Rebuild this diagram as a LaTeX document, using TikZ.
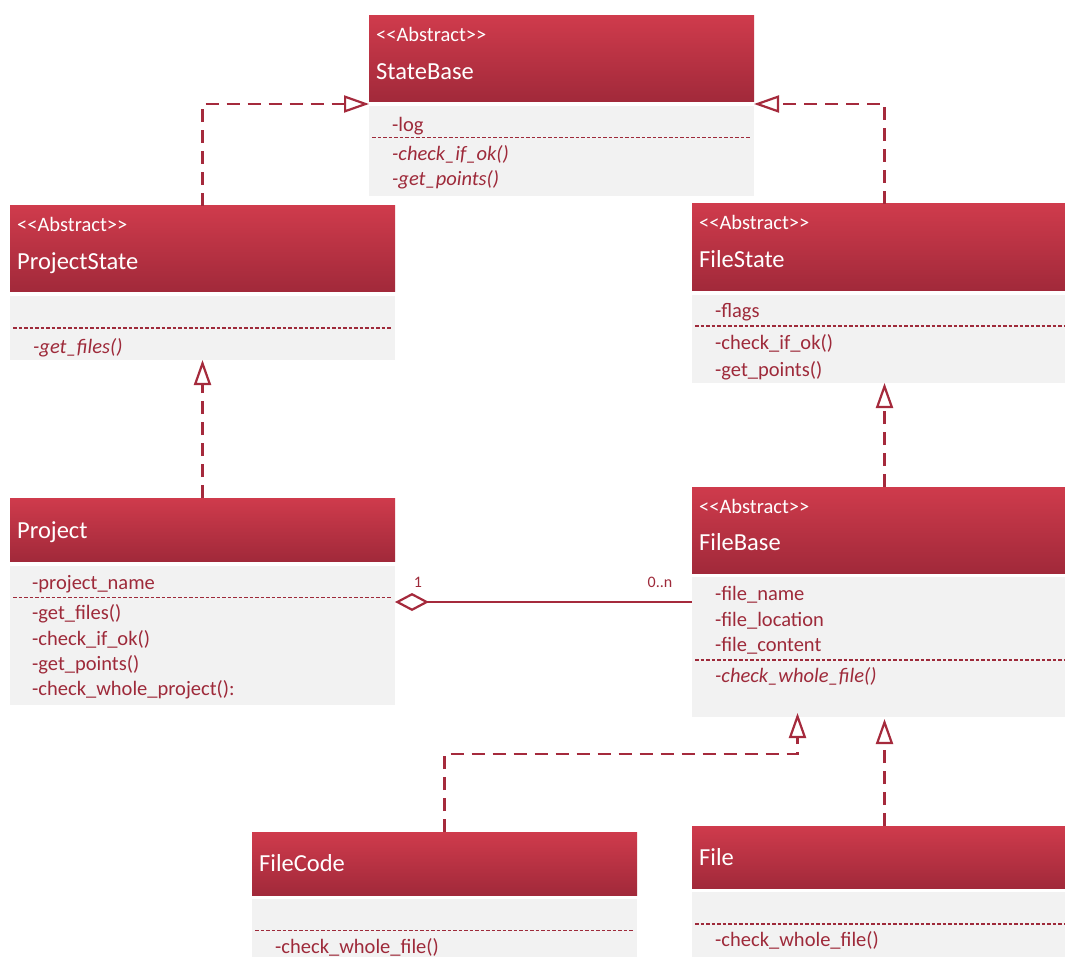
\documentclass[tikz,border=0pt]{standalone}
\usepackage{fontspec}
\setmainfont{Carlito}
\usetikzlibrary{arrows.meta,calc}
\definecolor{hdtop}{HTML}{CF3B4C}
\definecolor{hdbot}{HTML}{A1293A}
\definecolor{bodyfill}{HTML}{F2F2F2}
\definecolor{txt}{HTML}{9E2A3A}
\definecolor{ln}{HTML}{A52A3C}
\newcommand{\abst}{<{}<Abstract>{}>}
\tikzset{
  hdr/.style={top color=hdtop, bottom color=hdbot, draw=none, minimum width=385pt, anchor=north west, inner sep=0pt, outer sep=0pt},
  bodybox/.style={fill=bodyfill, draw=none, minimum width=385pt, anchor=north west, inner sep=0pt, outer sep=0pt},
  stereo/.style={anchor=base west, text=white, font=\fontsize{20.5}{22}\selectfont, inner sep=0pt},
  cname/.style={anchor=base west, text=white, font=\fontsize{24.5}{26}\selectfont, inner sep=0pt},
  mem/.style={anchor=base west, text=txt, font=\fontsize{20.5}{22}\selectfont, inner sep=0pt},
  imem/.style={mem, font=\fontsize{20.5}{22}\selectfont\itshape},
  sepline/.style={draw=txt, line width=1.3pt, dash pattern=on 3.5pt off 2pt},
  gen/.style={draw=ln, line width=2.5pt, dash pattern=on 13pt off 8pt,
    -{Triangle[open, length=25pt, width=17pt, line width=2.2pt]}},
  agg/.style={draw=ln, line width=2.5pt,
    {Diamond[open, length=34pt, width=18pt, line width=2.2pt]}-},
  mult/.style={text=txt, font=\fontsize{16}{18}\selectfont, inner sep=0pt},
}
\begin{document}
\begin{tikzpicture}[x=1pt,y=-1pt]
\useasboundingbox (0,0) rectangle (1065,957);
\fill[white] (0,0) rectangle (1065,957);
\clip (0,0) rectangle (1065,957);

% StateBase
\node[hdr, minimum height=86pt] (sbh) at (369,16) {};
\node[bodybox, minimum height=90pt] (sbb) at (369,106) {};
\node[stereo] (sbs) at (376,41.7) {\abst};
\node[cname] (sbn) at (376,79.3) {StateBase};
\node[mem] (sb1) at (392,131.5) {-log};
\draw[sepline] (372,137.7) -- (750,137.7);
\node[imem] (sb2) at (392,161) {-check\_if\_ok()};
\node[imem] (sb3) at (392,185.5) {-get\_points()};

% ProjectState
\node[hdr, minimum height=86pt] (psh) at (10,206) {};
\node[bodybox, minimum height=64pt] (psb) at (10,296) {};
\node[stereo] (pss) at (17,232) {\abst};
\node[cname] (psn) at (17,269.5) {ProjectState};
\draw[sepline] (13,328) -- (392,328);
\node[imem] (ps1) at (33,353.5) {-get\_files()};

% FileState
\node[hdr, minimum height=87pt] (fsh) at (692,204) {};
\node[bodybox, minimum height=88pt] (fsb) at (692,295) {};
\node[stereo] (fss) at (699,230) {\abst};
\node[cname] (fsn) at (699,268) {FileState};
\node[mem] (fs1) at (715,318) {-flags};
\draw[sepline] (695,326) -- (1074,326);
\node[mem] (fs2) at (715,350) {-check\_if\_ok()};
\node[mem] (fs3) at (715,376) {-get\_points()};

% Project
\node[hdr, minimum height=63pt] (ph) at (10,498) {};
\node[bodybox, minimum height=139pt] (pb) at (10,566) {};
\node[cname] (pn) at (17,538.3) {Project};
\node[mem] (p1) at (32,589.3) {-project\_name};
\draw[sepline] (13,597.3) -- (392,597.3);
\node[mem] (p2) at (32,619.5) {-get\_files()};
\node[mem] (p3) at (32,645) {-check\_if\_ok()};
\node[mem] (p4) at (32,670) {-get\_points()};
\node[mem] (p5) at (32,695) {-check\_whole\_project():};

% FileBase
\node[hdr, minimum height=86pt] (fbh) at (692,487) {};
\node[bodybox, minimum height=140pt] (fbb) at (692,577) {};
\node[stereo] (fbs) at (699,513.3) {\abst};
\node[cname] (fbn) at (699,550) {FileBase};
\node[mem] (fb1) at (715,600.7) {-file\_name};
\node[mem] (fb2) at (715,626) {-file\_location};
\node[mem] (fb3) at (715,651.7) {-file\_content};
\draw[sepline] (695,660) -- (1074,660);
\node[imem] (fb4) at (715,682.7) {-check\_whole\_file()};

% FileCode
\node[hdr, minimum height=63pt] (fch) at (252,832) {};
\node[bodybox, minimum height=70pt] (fcb) at (252,899) {};
\node[cname] (fcn) at (259,871.7) {FileCode};
\draw[sepline] (255,930.7) -- (634,930.7);
\node[mem] (fc1) at (275,953) {-check\_whole\_file()};

% File
\node[hdr, minimum height=62pt] (fh) at (692,826) {};
\node[bodybox, minimum height=76pt] (fb) at (692,892) {};
\node[cname] (fn) at (699,865) {File};
\draw[sepline] (695,924) -- (1074,924);
\node[mem] (f1) at (715,946.7) {-check\_whole\_file()};

% connectors
\draw[gen] (psh.north) |- ($(sbh.south west)+(0,2)$);
\draw[gen] (fsh.north) |- ($(sbh.south east)+(0,2)$);
\draw[gen] (ph.north) -- (psb.south);
\draw[gen] (fbh.north) -- (fsb.south);
\draw[gen] (fch.north) -- ++(0,-78) -| ($(fbb.south)+(-87,-4)$);
\draw[gen] (fh.north) -- ($(fbb.south)+(0,2)$);
\coordinate (aggy) at (0,602);
\draw[agg] (pb.east |- aggy) -- (fbb.west |- aggy);
\node[mult] (m1) at (418,582) {1};
\node[mult] (m2) at (660,582) {0..n};
\end{tikzpicture}
\end{document}
